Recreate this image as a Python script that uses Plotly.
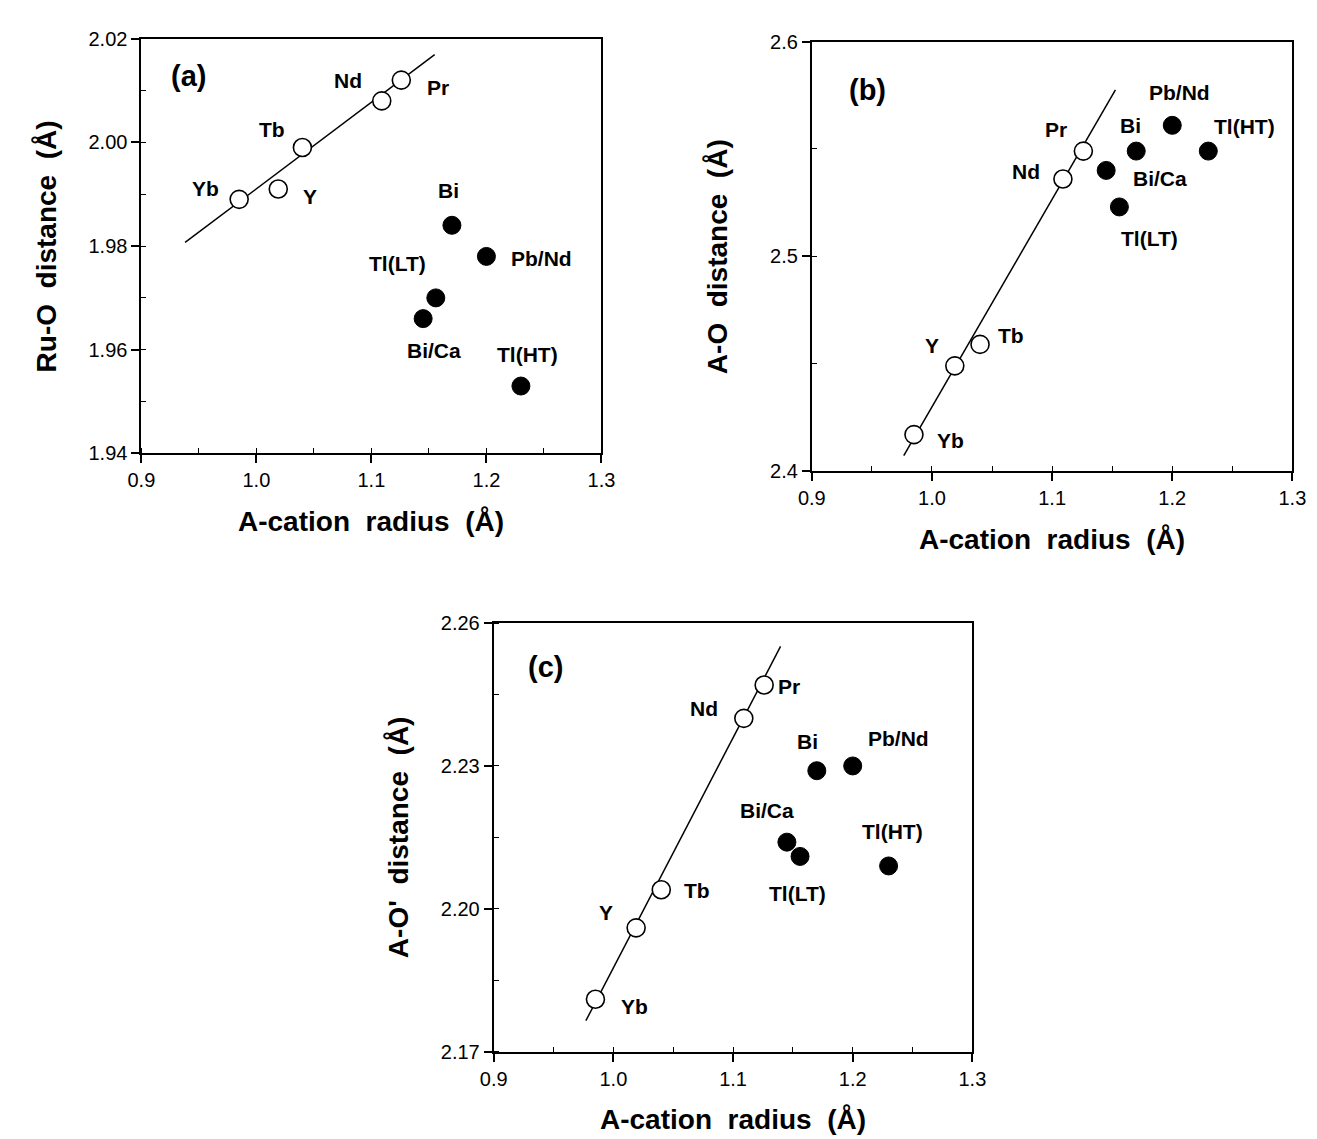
import plotly.graph_objects as go

# ---------------- data ----------------
names_open = ["Yb", "Y", "Tb", "Nd", "Pr"]
radius_open = [0.985, 1.019, 1.040, 1.109, 1.126]
names_filled = ["Bi", "Pb/Nd", "Tl(LT)", "Bi/Ca", "Tl(HT)"]
radius_filled = [1.170, 1.200, 1.156, 1.145, 1.230]

ru_o_open = [1.989, 1.991, 1.999, 2.008, 2.012]
ru_o_filled = [1.984, 1.978, 1.970, 1.966, 1.953]

a_o_open = [2.417, 2.449, 2.459, 2.536, 2.549]
a_o_filled = [2.549, 2.561, 2.523, 2.540, 2.549]

a_o2_open = [2.181, 2.196, 2.204, 2.240, 2.247]
a_o2_filled = [2.229, 2.230, 2.211, 2.214, 2.209]

fit_a_x = [0.938, 1.155]
fit_a_y = [1.9807, 2.0169]
fit_b_x = [0.9765, 1.1527]
fit_b_y = [2.4072, 2.5775]
fit_c_x = [0.977, 1.1397]
fit_c_y = [2.1765, 2.2551]

x_ticks = [0.9, 1.0, 1.1, 1.2, 1.3]
y_ticks_a = [1.94, 1.96, 1.98, 2.00, 2.02]
y_ticks_b = [2.4, 2.5, 2.6]
y_ticks_c = [2.17, 2.20, 2.23, 2.26]

# label pixel offsets (dx right, dy down) per panel
off_a = {"Yb": (-34, -11), "Y": (32, 8), "Tb": (-30, -18), "Nd": (-34, -20), "Pr": (37, 7),
         "Bi": (-3, -35), "Pb/Nd": (55, 2), "Tl(LT)": (-38, -34), "Bi/Ca": (11, 32), "Tl(HT)": (7, -32)}
off_b = {"Yb": (37, 6), "Y": (-23, -20), "Tb": (31, -9), "Nd": (-37, -8), "Pr": (-27, -22),
         "Bi": (-6, -26), "Pb/Nd": (7, -33), "Tl(LT)": (30, 32), "Bi/Ca": (54, 8), "Tl(HT)": (36, -25)}
off_c = {"Yb": (39, 7), "Y": (-30, -15), "Tb": (36, 1), "Nd": (-40, -10), "Pr": (25, 1),
         "Bi": (-9, -29), "Pb/Nd": (46, -27), "Tl(LT)": (-3, 37), "Bi/Ca": (-20, -32), "Tl(HT)": (4, -34)}

W, H = 1317, 1139
FONT = "Liberation Sans, Arial, sans-serif"
SP = "\u00a0\u00a0"

panels = [
    dict(xa="x", ya="y", xpx=(122, 592), ypx=(20, 443), yo=ru_o_open, yf=ru_o_filled,
         fx=fit_a_x, fy=fit_a_y, yr=[1.94, 2.02], yt=y_ticks_a, ym=0.01, fmt=".2f",
         title="Ru-O" + SP + "distance" + SP + "(Å)", lab="(a)", lpos=(0.102, 0.91), off=off_a),
    dict(xa="x2", ya="y2", xpx=(807, 1298), ypx=(23, 461), yo=a_o_open, yf=a_o_filled,
         fx=fit_b_x, fy=fit_b_y, yr=[2.4, 2.6], yt=y_ticks_b, ym=0.05, fmt=".1f",
         title="A-O" + SP + "distance" + SP + "(Å)", lab="(b)", lpos=(0.116, 0.888), off=off_b),
    dict(xa="x3", ya="y3", xpx=(482, 971), ypx=(616, 1053), yo=a_o2_open, yf=a_o2_filled,
         fx=fit_c_x, fy=fit_c_y, yr=[2.17, 2.26], yt=y_ticks_c, ym=0.015, fmt=".2f",
         title="A-O'" + SP + "distance" + SP + "(Å)", lab="(c)", lpos=(0.108, 0.897), off=off_c),
]

fig = go.Figure()
annotations = []
layout = {}

for i, p in enumerate(panels):
    xa, ya = p["xa"], p["ya"]
    fig.add_trace(go.Scatter(x=p["fx"], y=p["fy"], mode="lines", xaxis=xa, yaxis=ya,
                             line=dict(color="black", width=1.5), showlegend=False, hoverinfo="skip"))
    fig.add_trace(go.Scatter(x=radius_open, y=p["yo"], mode="markers", xaxis=xa, yaxis=ya,
                             marker=dict(size=18, color="white", line=dict(color="black", width=1.6)),
                             showlegend=False))
    fig.add_trace(go.Scatter(x=radius_filled, y=p["yf"], mode="markers", xaxis=xa, yaxis=ya,
                             marker=dict(size=18, color="black", line=dict(color="black", width=1)),
                             showlegend=False))
    for names, xs, ys in ((names_open, radius_open, p["yo"]), (names_filled, radius_filled, p["yf"])):
        for n, xv, yv in zip(names, xs, ys):
            dx, dy = p["off"][n]
            annotations.append(dict(x=xv, y=yv, xref=xa, yref=ya, text="<b>" + n + "</b>", showarrow=False,
                                    xshift=dx, yshift=-dy, xanchor="center", yanchor="middle",
                                    font=dict(family=FONT, size=21, color="black")))
    xdom = [p["xpx"][0] / W, p["xpx"][1] / W]
    ydom = [1 - p["ypx"][1] / H, 1 - p["ypx"][0] / H]
    suffix = "" if i == 0 else str(i + 1)
    common = dict(showline=True, linecolor="black", linewidth=2, mirror=True, showgrid=False,
                  zeroline=False, ticks="outside", ticklen=8, tickwidth=1.5, tickcolor="black",
                  tickfont=dict(family=FONT, size=20, color="black"))
    layout["xaxis" + suffix] = dict(domain=xdom, anchor=ya, range=[0.9, 1.3], tickvals=x_ticks,
                                    tickformat=".1f",
                                    minor=dict(dtick=0.05, ticks="inside", ticklen=5, tickcolor="black",
                                               tickwidth=1.2, showgrid=False),
                                    **common)
    layout["yaxis" + suffix] = dict(domain=ydom, anchor=xa, range=p["yr"], tickvals=p["yt"],
                                    tickformat=p["fmt"],
                                    minor=dict(dtick=p["ym"], tick0=p["yr"][0], ticks="inside", ticklen=5,
                                               tickcolor="black", tickwidth=1.2, showgrid=False),
                                    **common)
    xd = xa + " domain"
    yd = ya + " domain"
    annotations.append(dict(x=0.5, y=0, xref=xd, yref=yd, yshift=-68, showarrow=False,
                            text="<b>A-cation" + SP + "radius" + SP + "(Å)</b>", xanchor="center",
                            yanchor="middle", font=dict(family=FONT, size=28, color="black")))
    annotations.append(dict(x=0, y=0.5, xref=xd, yref=yd, xshift=-95, showarrow=False, textangle=-90,
                            text="<b>" + p["title"] + "</b>", xanchor="center", yanchor="middle",
                            font=dict(family=FONT, size=28, color="black")))
    annotations.append(dict(x=p["lpos"][0], y=p["lpos"][1], xref=xd, yref=yd, showarrow=False,
                            text="<b>" + p["lab"] + "</b>", xanchor="center", yanchor="middle",
                            font=dict(family=FONT, size=29, color="black")))

fig.update_layout(width=W, height=H, margin=dict(l=0, r=0, t=0, b=0),
                  paper_bgcolor="white", plot_bgcolor="white", annotations=annotations, **layout)

fig.write_html("out.html")
